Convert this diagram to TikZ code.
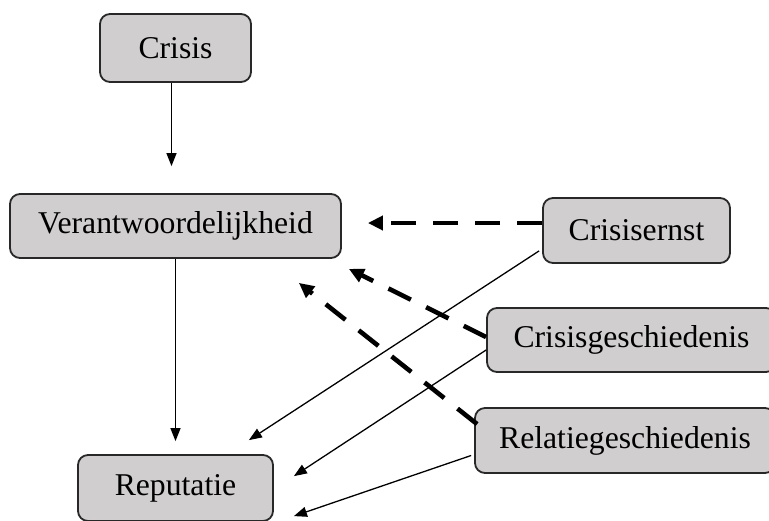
\documentclass[tikz,border=0pt]{standalone}
\usepackage{fontspec}
\setmainfont{Liberation Serif}
\usetikzlibrary{arrows.meta,calc}
\definecolor{boxfill}{RGB}{208,206,206}
\definecolor{boxline}{RGB}{40,40,40}
\tikzset{
  box/.style={draw=boxline, line width=0.9pt, fill=boxfill, rounded corners=5pt,
    inner sep=0pt, font=\fontsize{15.85pt}{19pt}\selectfont},
  arr/.style={line width=0.65pt, -{Triangle[length=6.5pt,width=5pt]}},
  darr/.style={line width=2.3pt, dash pattern=on 12.5pt off 8.5pt,
    -{Triangle[length=7.5pt,width=7pt]}}
}
\begin{document}
\begin{tikzpicture}[x=0.5pt,y=-0.5pt]
\useasboundingbox (0,0) rectangle (769,520);
\node[box, minimum width=75.5pt, minimum height=34pt] (crisis) at (175.5,48) {Crisis};
\node[box, minimum width=165.5pt, minimum height=32pt] (verant) at (175.5,226) {Verantwoordelijkheid};
\node[box, minimum width=93.5pt, minimum height=32.5pt] (ce) at (636.5,230.5) {Crisisernst};
\node[box, minimum width=144.5pt, minimum height=32pt] (cg) at (631.5,340) {Crisisgeschiedenis};
\node[box, minimum width=150pt, minimum height=32.5pt] (rg) at (625,440.5) {Relatiegeschiedenis};
\node[box, minimum width=97.5pt, minimum height=33pt] (reput) at (175.5,488) {Reputatie};

\draw[arr, shorten >=13.5pt] ([xshift=-2pt]crisis.south) -- ([xshift=-2pt]crisis.south |- verant.north);
\draw[arr, shorten >=6.5pt] (verant.south) -- (verant.south |- reput.north);

\draw[darr, shorten >=13pt] ([yshift=3.75pt]ce.west) -- ([yshift=3.75pt]ce.west -| verant.east);
\draw[darr] ($(cg.west)+(0,-3)$) -- ($(verant.south east)+(7,10)$);
\draw[darr] ($(rg.north west)+(3,17)$) -- ($(verant.south east)+(-43,24)$);

\draw[arr] ($(ce.south west)+(-3,-13)$) -- ($(reput.north east)+(-25,-14)$);
\draw[arr] ($(cg.west)+(0,10)$) -- ($(reput.north east)+(20,22)$);
\draw[arr] ($(rg.west)+(-3,15)$) -- ($(reput.north east)+(20,62)$);
\end{tikzpicture}
\end{document}
